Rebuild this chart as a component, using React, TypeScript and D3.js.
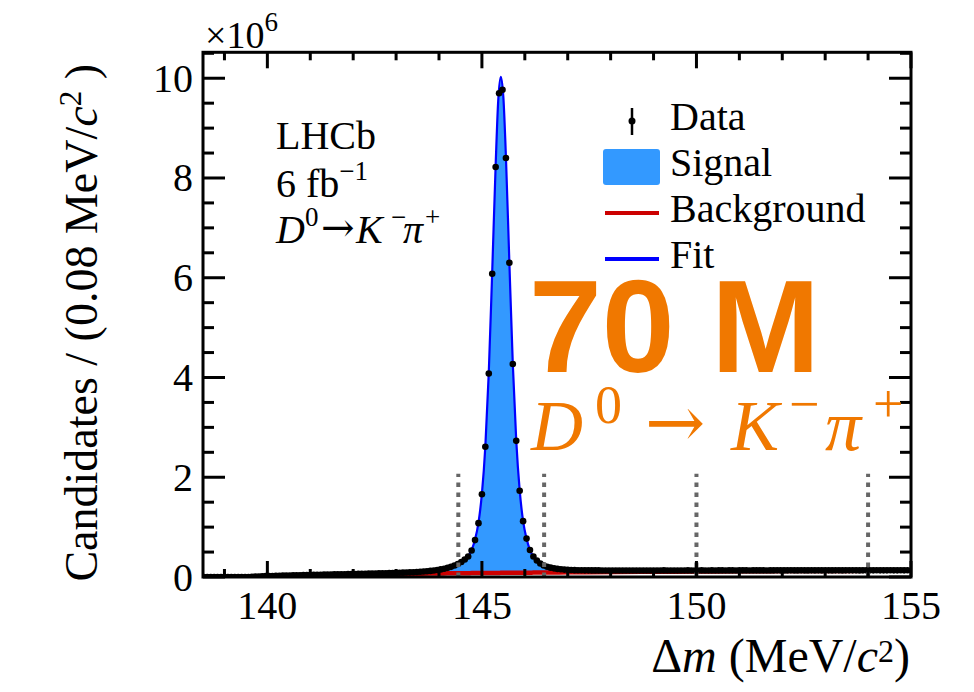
import React from 'react';
import * as d3 from 'd3';

const W = 974;
const H = 692;

// Axis ranges (Δm in MeV/c², candidates in units of 10^6)
const X_DOMAIN: [number, number] = [138.5, 155];
const Y_DOMAIN: [number, number] = [0, 10.52];
const BIN_START = 138.52;
const BIN_WIDTH = 0.08;

const xMajorTicks = [140, 145, 150, 155];
const xMinorTicks = [139, 141, 142, 143, 144, 146, 147, 148, 149, 151, 152, 153, 154];
const yMajorTicks = [0, 2, 4, 6, 8, 10];
const yMinorTicks = [0.5, 1, 1.5, 2.5, 3, 3.5, 4.5, 5, 5.5, 6.5, 7, 7.5, 8.5, 9, 9.5, 10.5];

// Data: candidates per 0.08 MeV/c² bin (×10^6)
const counts = [
  0, 0, 0, 0, 0, 0, 0, 0, 0, 0, 0, 0, 0, 0,
  0.004, 0.008, 0.011, 0.014, 0.017, 0.019, 0.021, 0.023, 0.025, 0.027,
  0.029, 0.031, 0.033, 0.035, 0.036, 0.038, 0.040, 0.041, 0.043, 0.044,
  0.046, 0.047, 0.049, 0.050, 0.052, 0.053, 0.055, 0.056, 0.058, 0.059,
  0.061, 0.062, 0.064, 0.065, 0.067, 0.069, 0.070, 0.072, 0.074, 0.076,
  0.078, 0.080, 0.082, 0.085, 0.087, 0.090, 0.093, 0.096, 0.100, 0.104,
  0.109, 0.115, 0.122, 0.130, 0.140, 0.152, 0.166, 0.183, 0.204, 0.230,
  0.262, 0.302, 0.350, 0.41, 0.53, 0.74, 1.08, 1.66, 2.61, 4.08,
  6.08, 8.22, 9.70, 9.77, 8.40, 6.30, 4.27, 2.73, 1.73, 1.12,
  0.77, 0.54, 0.41, 0.33, 0.27, 0.23, 0.205, 0.187, 0.173, 0.162,
  0.154, 0.148, 0.143, 0.140, 0.137, 0.135, 0.134,
  0.133, 0.133, 0.132, 0.132, 0.132, 0.131, 0.131, 0.131,
  0.131, 0.130, 0.131, 0.131, 0.130, 0.131, 0.131, 0.131, 0.130, 0.131,
  0.131, 0.131, 0.130, 0.131, 0.131, 0.132, 0.131, 0.131, 0.131, 0.130,
  0.131, 0.131, 0.132, 0.131, 0.131, 0.131, 0.132, 0.131, 0.131, 0.132,
  0.131, 0.132, 0.132, 0.131, 0.132, 0.132, 0.131, 0.132, 0.132, 0.132,
  0.131, 0.132, 0.132, 0.132, 0.132, 0.131, 0.132, 0.132, 0.133, 0.132,
  0.132, 0.132, 0.133, 0.132, 0.132, 0.133, 0.132, 0.132, 0.133, 0.132,
  0.133, 0.132, 0.133, 0.133, 0.132, 0.133, 0.133, 0.132, 0.133, 0.133,
  0.133, 0.133, 0.132, 0.133, 0.133, 0.133, 0.133, 0.134, 0.133, 0.133,
  0.133, 0.134, 0.133, 0.133, 0.134, 0.133, 0.134,
];

// Fit curve knots (total fit and background component, ×10^6)
const fitM = [
  138.5, 139.57, 140.0, 140.5, 141.0, 141.5, 142.0, 142.5, 143.0, 143.4,
  143.8, 144.0, 144.2, 144.4, 144.52, 144.6, 144.68, 144.76, 144.84, 144.92,
  145.0, 145.08, 145.16, 145.24, 145.32, 145.38, 145.44, 145.5, 145.56, 145.64,
  145.72, 145.8, 145.88, 145.96, 146.04, 146.12, 146.2, 146.28, 146.36, 146.44,
  146.6, 146.8, 147.0, 147.4, 148, 149, 150, 151, 152, 153, 154, 155,
];
const fitV = [
  0, 0, 0.018, 0.030, 0.041, 0.051, 0.061, 0.070, 0.082, 0.096,
  0.122, 0.146, 0.183, 0.245, 0.302, 0.352, 0.42, 0.54, 0.75, 1.09,
  1.67, 2.62, 4.10, 6.12, 8.25, 9.55, 10.03, 9.62, 8.42, 6.30,
  4.27, 2.74, 1.74, 1.12, 0.77, 0.54, 0.41, 0.33, 0.27, 0.23,
  0.187, 0.156, 0.143, 0.134, 0.132, 0.131, 0.131, 0.131, 0.132, 0.132, 0.132, 0.133,
];
const bkgV = [
  0, 0, 0.015, 0.025, 0.034, 0.042, 0.049, 0.055, 0.061, 0.065,
  0.069, 0.071, 0.073, 0.075, 0.076, 0.077, 0.077, 0.078, 0.078, 0.079,
  0.080, 0.080, 0.081, 0.081, 0.082, 0.082, 0.083, 0.083, 0.084, 0.084,
  0.085, 0.085, 0.086, 0.086, 0.087, 0.087, 0.088, 0.088, 0.089, 0.089,
  0.090, 0.092, 0.093, 0.096, 0.100, 0.105, 0.110, 0.114, 0.118, 0.121, 0.124, 0.127,
];

// Signal window / sideband boundaries
const cutLines = [144.45, 146.45, 150, 154];
const CUT_TOP = 2.07;

const SERIF = "'Liberation Serif', 'Times New Roman', Times, serif";
const SANS = "'Liberation Sans', Arial, Helvetica, sans-serif";
const ARROW_FONT = "'DejaVu Serif', 'DejaVu Sans', serif";
const ORANGE = '#f07800';
const SIGNAL_FILL = '#3399ff';
const BKG_RED = '#cc0000';
const FIT_BLUE = '#0000ff';

export default function App() {
  const left = 203, right = 911, top = 52.3, bottom = 577;
  const x = d3.scaleLinear().domain(X_DOMAIN).range([left, right]);
  const y = d3.scaleLinear().domain(Y_DOMAIN).range([bottom, top]);

  const fitPts = fitM.map((m, i) => ({ m, f: fitV[i], b: bkgV[i] }));
  const curve = d3.curveMonotoneX;
  const signalArea = d3.area<any>().x(d => x(d.m)).y0(d => y(d.b)).y1(d => y(d.f)).curve(curve)(fitPts) || '';
  const fitLine = d3.line<any>().x(d => x(d.m)).y(d => y(d.f)).curve(curve)(fitPts) || '';
  const bkgLine = d3.line<any>().x(d => x(d.m)).y(d => y(d.b)).curve(curve)(fitPts) || '';

  const points = counts.map((c, i) => ({ m: BIN_START + i * BIN_WIDTH, c }));

  const xMajLen = 16, xMinLen = 8, yMajLen = 22, yMinLen = 11;
  const tickW = 3;

  return (
    <div style={{ position: 'fixed', left: 0, top: 0, width: W, height: H, background: '#fff' }}>
      <svg width={W} height={H} viewBox={`0 0 ${W} ${H}`} style={{ display: 'block', fontFamily: SERIF }}>
        <rect x={0} y={0} width={W} height={H} fill="#fff" />
        <defs>
          <clipPath id="frameClip">
            <rect x={left} y={top} width={right - left} height={bottom - top} />
          </clipPath>
        </defs>

        <g clipPath="url(#frameClip)">
          <path d={signalArea} fill={SIGNAL_FILL} stroke="none" />
          <path d={bkgLine} fill="none" stroke={BKG_RED} strokeWidth={4.5} />
          <path d={fitLine} fill="none" stroke={FIT_BLUE} strokeWidth={2.2} />
          {points.map((p, i) => (
            <circle key={i} cx={x(p.m)} cy={y(p.c)} r={3.3} fill="#000" />
          ))}
          {cutLines.map((m, i) => (
            <line key={i} x1={x(m)} x2={x(m)} y1={y(0)} y2={y(CUT_TOP)} stroke="#666" strokeWidth={4} strokeDasharray="4.5 5.5" />
          ))}
        </g>

        <g stroke="#000" strokeWidth={tickW}>
          {xMajorTicks.map(t => (
            <g key={'xM' + t}>
              <line x1={x(t)} x2={x(t)} y1={bottom} y2={bottom - xMajLen} />
              <line x1={x(t)} x2={x(t)} y1={top} y2={top + xMajLen} />
            </g>
          ))}
          {xMinorTicks.map(t => (
            <g key={'xm' + t}>
              <line x1={x(t)} x2={x(t)} y1={bottom} y2={bottom - xMinLen} />
              <line x1={x(t)} x2={x(t)} y1={top} y2={top + xMinLen} />
            </g>
          ))}
          {yMajorTicks.map(t => (
            <g key={'yM' + t}>
              <line x1={left} x2={left + yMajLen} y1={y(t)} y2={y(t)} />
              <line x1={right} x2={right - yMajLen} y1={y(t)} y2={y(t)} />
            </g>
          ))}
          {yMinorTicks.map(t => (
            <g key={'ym' + t}>
              <line x1={left} x2={left + yMinLen} y1={y(t)} y2={y(t)} />
              <line x1={right} x2={right - yMinLen} y1={y(t)} y2={y(t)} />
            </g>
          ))}
        </g>

        <rect x={left} y={top} width={right - left} height={bottom - top} fill="none" stroke="#000" strokeWidth={3} />

        <g fontSize={40} fill="#000" style={{ fontFamily: SERIF }}>
          {xMajorTicks.map(t => (
            <text key={'xl' + t} x={x(t)} y={619} textAnchor="middle">{t}</text>
          ))}
          {yMajorTicks.map(t => (
            <text key={'yl' + t} x={193} y={y(t) + 13.5} textAnchor="end">{t}</text>
          ))}
        </g>

        <text x={205} y={48} fontSize={38} style={{ fontFamily: SERIF }}>
          ×10<tspan dy={-17} fontSize={27}>6</tspan>
        </text>

        <text x={910} y={672} textAnchor="end" fontSize={48} style={{ fontFamily: SERIF }}>
          Δ<tspan fontStyle="italic">m</tspan> (MeV/<tspan fontStyle="italic">c</tspan>
          <tspan dy={-10} fontSize={32}>2</tspan><tspan dy={10}>)</tspan>
        </text>
        <text transform="translate(97,64) rotate(-90)" textAnchor="end" fontSize={46} style={{ fontFamily: SERIF }}>
          Candidates / (0.08 MeV/<tspan fontStyle="italic">c</tspan>
          <tspan dy={-16} fontSize={31}>2</tspan><tspan dy={16}> )</tspan>
        </text>

        <g fontSize={40} fill="#000" style={{ fontFamily: SERIF }}>
          <text x={276} y={149}>LHCb</text>
          <text x={276} y={197}>6 fb<tspan dy={-17} fontSize={27}>−1</tspan></text>
          <text x={276} y={243} fontStyle="italic">D</text>
          <text x={305} y={226} fontSize={27}>0</text>
          <text x={321} y={241} style={{ fontFamily: ARROW_FONT }} fontSize={40}>→</text>
          <text x={356} y={243} fontStyle="italic">K</text>
          <text x={391} y={226} fontSize={27}>−</text>
          <text x={403} y={243} fontStyle="italic">π</text>
          <text x={425} y={226} fontSize={27}>+</text>
        </g>

        <g fontSize={40} fill="#000" style={{ fontFamily: SERIF }}>
          <line x1={632} x2={632} y1={108} y2={135} stroke="#000" strokeWidth={2.5} />
          <circle cx={632} cy={121} r={3.5} fill="#000" />
          <text x={670} y={130}>Data</text>
          <rect x={603} y={149} width={57} height={36} rx={3} fill={SIGNAL_FILL} />
          <text x={670} y={176}>Signal</text>
          <line x1={605} x2={659} y1={213} y2={213} stroke={BKG_RED} strokeWidth={4} />
          <text x={670} y={222}>Background</text>
          <line x1={605} x2={659} y1={259} y2={259} stroke={FIT_BLUE} strokeWidth={4} />
          <text x={670} y={268}>Fit</text>
        </g>

        <text x={529} y={372} fontWeight="bold" fontSize={131} fill={ORANGE} style={{ fontFamily: SANS }}>70 M</text>
        <g fill={ORANGE} fontSize={72} style={{ fontFamily: SERIF }}>
          <text x={531} y={450} fontStyle="italic">D</text>
          <text x={595} y={423} fontSize={54}>0</text>
          <text x={645} y={447} fontSize={72} style={{ fontFamily: ARROW_FONT }}>→</text>
          <text x={731} y={450} fontStyle="italic">K</text>
          <text x={789} y={422} fontSize={54}>−</text>
          <text x={825} y={450} fontStyle="italic">π</text>
          <text x={873} y={422} fontSize={54}>+</text>
        </g>
      </svg>
    </div>
  );
}
